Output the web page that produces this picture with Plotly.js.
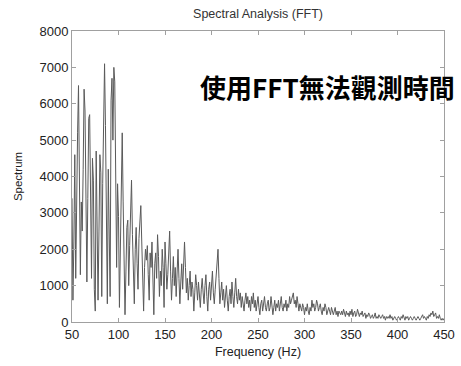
<!DOCTYPE html>
<html>
<head>
<meta charset="utf-8">
<script src="https://cdn.plot.ly/plotly-3.0.1.min.js"></script>
<style>html,body{margin:0;padding:0;background:#fff;overflow:hidden}#chart{width:461px;height:366px}</style>
</head>
<body>
<div id="chart"></div>
<script>
// FFT bin grid (Hz)
const freqStart = 50;
const freqStep = 1;
// Spectrum magnitude, one value per 1 Hz bin from 50 to 450 Hz
const spectrum = [
3400,600,2200,4600,1200,3800,5200,6500,3100,1300,
3300,2500,4200,6400,5800,2600,1100,3400,5600,5700,
3000,1200,4500,3900,900,300,4700,3200,600,2500,
4600,4100,700,3800,6300,7100,5400,2900,500,4200,
2300,700,6100,6700,5000,7000,6600,3200,1500,3800,
2900,400,1800,4000,5200,3300,1700,200,1400,2600,
2800,1000,2100,3200,3900,2400,1200,500,2000,2600,
1600,900,2300,2700,3200,2200,1100,300,1500,2000,
1700,2100,1300,600,1900,1500,2200,900,200,1600,
1900,1200,2400,1800,700,1400,1000,2000,1500,400,
2200,1600,900,1300,1900,2500,1400,600,1200,1800,
1000,1500,700,1300,2000,1200,500,1100,1600,900,
1400,2200,1500,800,1200,600,1000,1400,700,1100,
900,300,800,1300,1000,600,1100,700,400,900,
1200,800,500,1000,1300,700,300,900,1100,600,
1000,1400,800,500,900,1300,1600,2000,1200,500,
800,1100,600,900,400,700,1000,600,300,700,
900,500,1100,700,400,800,1200,700,500,900,
600,800,400,700,500,300,600,800,500,700,
400,600,300,700,500,800,400,600,300,500,
700,400,200,500,600,300,500,700,400,300,
500,600,300,400,700,500,200,400,600,300,
500,400,600,300,500,700,400,300,500,400,
600,300,500,400,700,500,600,700,800,500,
600,400,700,500,300,500,400,300,500,400,
200,400,300,500,300,200,400,300,600,400,
500,300,400,600,500,300,400,500,300,200,
400,300,500,400,200,300,400,300,200,400,
300,200,300,400,200,300,150,300,250,200,
300,200,350,250,150,300,200,250,150,300,
200,350,150,250,300,150,200,350,200,150,
250,200,300,150,200,250,100,200,150,250,
200,100,150,200,100,150,250,100,150,100,
200,150,100,150,200,100,150,50,150,100,
150,100,200,100,150,50,100,150,100,50,
100,150,100,50,150,100,200,100,50,150,
100,150,50,100,150,100,50,100,150,100,
50,100,150,100,50,100,150,200,100,150,
100,50,150,100,200,150,250,200,300,150,
200,250,100,150,100,200,100,50,100,50,100
];
const xTicks = [50,100,150,200,250,300,350,400,450];
const yTicks = [0,1000,2000,3000,4000,5000,6000,7000,8000];
const titleText = 'Spectral Analysis (FFT)';
const xTitle = 'Frequency (Hz)';
const yTitle = 'Spectrum';
const noteText = '使用FFT無法觀測時間';

const freq = spectrum.map((_, i) => freqStart + i * freqStep);
const FONT = 'Liberation Sans, Arial, sans-serif';

const axisCommon = {
  showgrid: false, zeroline: false, showline: true, mirror: 'ticks',
  linecolor: '#a0a0a0', linewidth: 1, ticks: 'inside', ticklen: 4,
  tickcolor: '#a0a0a0', tickfont: {family: FONT, size: 13, color: '#222'}
};

Plotly.newPlot('chart', [{
  x: freq, y: spectrum, type: 'scatter', mode: 'lines',
  line: {color: '#5a5a5a', width: 1}, hoverinfo: 'skip'
}], {
  width: 461, height: 366,
  margin: {l: 72, r: 17, t: 31, b: 44},
  paper_bgcolor: '#fff', plot_bgcolor: '#fff',
  showlegend: false,
  title: {text: titleText, x: 0.5597, xanchor: 'center', y: 0.962, yanchor: 'middle',
          font: {family: FONT, size: 12.5, color: '#333'}},
  xaxis: Object.assign({}, axisCommon, {
    range: [50, 450], tickvals: xTicks, ticktext: xTicks.map(String),
    title: {text: xTitle, standoff: 6, font: {family: FONT, size: 12.5, color: '#222'}}
  }),
  yaxis: Object.assign({}, axisCommon, {
    range: [0, 8000], tickvals: yTicks, ticktext: yTicks.map(String),
    title: {text: yTitle, standoff: 14, font: {family: FONT, size: 11.5, color: '#222'}}
  }),
  annotations: [{
    text: '<b>' + noteText + '</b>', xref: 'paper', yref: 'paper',
    x: 0.339, y: 0.808, xanchor: 'left', yanchor: 'middle', showarrow: false,
    font: {family: 'Noto Sans CJK TC, Noto Sans CJK SC, sans-serif', size: 26, color: '#000'}
  }]
}, {staticPlot: true, displayModeBar: false});
</script>
</body>
</html>
